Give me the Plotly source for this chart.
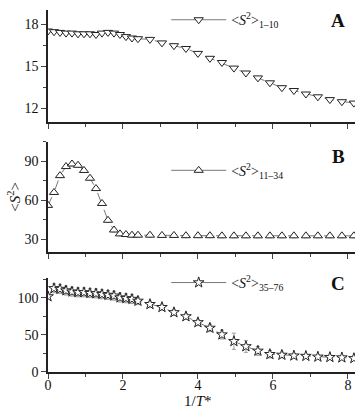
import plotly.graph_objects as go
from plotly.subplots import make_subplots

# x values (1/T*)
x_dense = [0.0, 0.16, 0.32, 0.48, 0.64, 0.80, 0.96, 1.12, 1.28, 1.44, 1.60, 1.76, 1.92, 2.08, 2.24, 2.40]
x_sparse = [2.72, 3.04, 3.36, 3.68, 4.00, 4.32, 4.64, 4.96, 5.28, 5.60, 5.92, 6.24, 6.56, 6.88, 7.20, 7.52, 7.84, 8.16]
x_vals = x_dense + x_sparse

# Panel A: <S^2>_{1-10}
s2_a = [17.5, 17.45, 17.4, 17.35, 17.35, 17.3, 17.3, 17.3, 17.25, 17.35, 17.4, 17.35, 17.25, 17.1, 17.0, 16.95,
        16.9, 16.65, 16.45, 16.25, 15.9, 15.55, 15.25, 14.85, 14.5, 14.15, 13.8, 13.45, 13.25, 13.0, 12.8, 12.6, 12.45, 12.35]
err_a = [0.1] * 34

# Panel B: <S^2>_{11-34}
s2_b = [56, 66, 79, 86, 88, 87, 83, 77, 69, 57.5, 44.5, 37, 34, 33.5, 33, 33,
        33, 32.8, 32.8, 32.6, 32.6, 32.6, 32.5, 32.5, 32.5, 32.5, 32.5, 32.5, 32.5, 32.5, 32.5, 32.5, 32.5, 32.5]
err_b = [1.5] * 34

# Panel C: <S^2>_{35-76}
s2_c = [102, 113, 112, 110, 108.5, 107.5, 107.5, 106.5, 106, 105, 104, 103, 100.5, 99.5, 98.5, 96,
        91.5, 87.5, 80.5, 75, 67, 59.5, 50.5, 41.5, 34.5, 28.5, 24, 23, 22, 21.5, 20.5, 20, 19.5, 18.5]
err_c = [3, 6, 6, 6, 6, 6, 6, 6, 6, 6, 6, 6, 6, 6, 6, 5,
         4, 4, 4, 4, 4, 5, 6, 11, 8, 6, 5, 4, 3, 2, 2, 2, 2, 2]

labels = ["&lt;<i>S</i><sup>2</sup>&gt;<sub>1–10</sub>",
          "&lt;<i>S</i><sup>2</sup>&gt;<sub>11–34</sub>",
          "&lt;<i>S</i><sup>2</sup>&gt;<sub>35–76</sub>"]
panel_letters = ["A", "B", "C"]
y_ranges = [[11, 19], [20, 105], [0, 127]]
y_ticks = [[12, 15, 18], [30, 60, 90], [0, 50, 100]]
y_minor = [1.5, 15, 25]
symbols = ["triangle-down", "triangle-up", "star"]
marker_sizes = [8, 8, 8]
series = [s2_a, s2_b, s2_c]
errors = [err_a, err_b, err_c]

FONT = "Liberation Serif"
fig = make_subplots(rows=3, cols=1, shared_xaxes=False, vertical_spacing=0.05)

domains = [[0.6906, 1.0], [0.3315, 0.6354], [0.0, 0.2597]]
legend_names = ["legend", "legend2", "legend3"]
legend_pos = [(0.385, 0.972), (0.385, 0.556), (0.385, 0.246)]

for i in range(3):
    mk = dict(symbol=symbols[i], size=marker_sizes[i], color="white",
              line=dict(width=1, color="#222222"))
    fig.add_trace(go.Scatter(
        x=x_vals, y=series[i], name=labels[i], mode="lines+markers",
        line=dict(color="#555555", width=0.8, dash="dash"),
        marker=mk,
        error_y=dict(type="data", array=errors[i], visible=True, color="#888888",
                     thickness=0.8, width=2),
        showlegend=False,
    ), row=i + 1, col=1)
    # legend entry (solid line sample)
    fig.add_trace(go.Scatter(
        x=[None], y=[None], name=labels[i], mode="lines+markers",
        line=dict(color="#555555", width=0.8),
        marker=mk, legend=legend_names[i], showlegend=True,
    ), row=i + 1, col=1)

layout_kwargs = {}
for i in range(3):
    ax = "" if i == 0 else str(i + 1)
    layout_kwargs["yaxis" + ax] = dict(
        domain=domains[i], range=y_ranges[i], tickvals=y_ticks[i],
        ticks="outside", ticklen=5, tickwidth=1.2, showline=True, linecolor="#222222",
        linewidth=1.5, showgrid=False, zeroline=False, mirror=False,
        tickfont=dict(family=FONT, size=14, color="#111111"),
        minor=dict(dtick=y_minor[i], tick0=0, ticks="outside", ticklen=3, tickwidth=1, showgrid=False),
    )
    layout_kwargs["xaxis" + ax] = dict(
        range=[0, 8.19], tickvals=[0, 2, 4, 6, 8], ticks="outside", ticklen=5, tickwidth=1.2,
        showline=True, linecolor="#222222", linewidth=1.5, showgrid=False, zeroline=False,
        showticklabels=(i == 2), anchor="y" + ax, ticklabelstandoff=-6,
        tickfont=dict(family=FONT, size=14, color="#111111"),
        minor=dict(dtick=1, tick0=0, ticks="outside", ticklen=3, tickwidth=1, showgrid=False),
    )
    lx, ly = legend_pos[i]
    layout_kwargs[legend_names[i]] = dict(
        x=lx, y=ly, xanchor="left", yanchor="middle", bgcolor="rgba(0,0,0,0)",
        font=dict(family=FONT, size=14, color="#111111"), itemwidth=55,
        borderwidth=0, tracegroupgap=0,
    )

fig.update_layout(**layout_kwargs)

annotations = []
letter_y = [0.972, 0.594, 0.245]
for i in range(3):
    annotations.append(dict(text="<b>" + panel_letters[i] + "</b>", xref="paper", yref="paper",
                            x=0.975, y=letter_y[i], xanchor="right", yanchor="middle", showarrow=False,
                            font=dict(family=FONT, size=19, color="#111111")))
annotations.append(dict(text="&lt;<i>S</i><sup>2</sup>&gt;", xref="paper", yref="paper",
                        x=-0.11, y=0.485, textangle=-90, showarrow=False, xanchor="center", yanchor="middle",
                        font=dict(family=FONT, size=15, color="#111111")))
annotations.append(dict(text="1/<i>T</i>*", xref="paper", yref="paper",
                        x=0.49, y=-0.0801, showarrow=False, xanchor="center", yanchor="middle",
                        font=dict(family=FONT, size=15, color="#111111")))

fig.update_layout(
    width=359, height=409, margin=dict(l=48, r=4, t=10, b=37),
    plot_bgcolor="white", paper_bgcolor="white",
    annotations=annotations,
    font=dict(family=FONT, size=14, color="#111111"),
)

fig.write_html("out.html", config={"displayModeBar": False},
               post_script="document.body.style.margin='0';")
